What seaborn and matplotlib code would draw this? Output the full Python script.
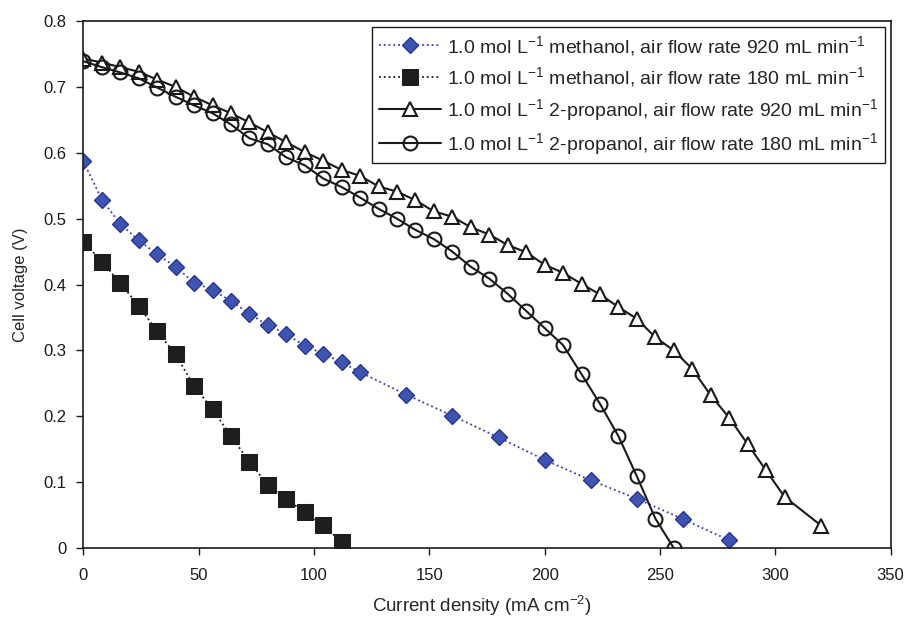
import numpy as np
import pandas as pd
import seaborn as sns
import matplotlib.pyplot as plt
from matplotlib.ticker import FuncFormatter, MultipleLocator

sns.set_style('ticks')
plt.rcParams['font.family'] = ['Liberation Sans', 'DejaVu Sans']
plt.rcParams['mathtext.fontset'] = 'custom'
plt.rcParams['mathtext.rm'] = 'Liberation Sans'
plt.rcParams['mathtext.it'] = 'Liberation Sans:italic'

# methanol, air 920 mL/min
meoh_920_x = [0, 8, 16, 24, 32, 40, 48, 56, 64, 72, 80, 88, 96, 104, 112, 120,
              140, 160, 180, 200, 220, 240, 260, 280]
meoh_920_v = [0.587, 0.529, 0.492, 0.467, 0.446, 0.427, 0.403, 0.392, 0.375, 0.356,
              0.338, 0.325, 0.307, 0.295, 0.282, 0.267, 0.233, 0.201, 0.168, 0.134,
              0.103, 0.075, 0.044, 0.012]

# methanol, air 180 mL/min
meoh_180_x = [0, 8, 16, 24, 32, 40, 48, 56, 64, 72, 80, 88, 96, 104, 112]
meoh_180_v = [0.465, 0.435, 0.402, 0.368, 0.329, 0.294, 0.246, 0.211, 0.170, 0.131,
              0.096, 0.074, 0.055, 0.035, 0.009]

# 2-propanol, air 920 mL/min
prop_920_x = [0, 8, 16, 24, 32, 40, 48, 56, 64, 72, 80, 88, 96, 104, 112, 120,
              128, 136, 144, 152, 160, 168, 176, 184, 192, 200, 208, 216, 224, 232,
              240, 248, 256, 264, 272, 280, 288, 296, 304, 320]
prop_920_v = [0.743, 0.737, 0.730, 0.723, 0.711, 0.700, 0.685, 0.672, 0.660, 0.646,
              0.631, 0.616, 0.601, 0.588, 0.574, 0.565, 0.549, 0.541, 0.528, 0.511,
              0.503, 0.487, 0.476, 0.460, 0.449, 0.430, 0.418, 0.401, 0.385, 0.366,
              0.348, 0.320, 0.300, 0.272, 0.232, 0.198, 0.158, 0.118, 0.078, 0.034]

# 2-propanol, air 180 mL/min
prop_180_x = [0, 8, 16, 24, 32, 40, 48, 56, 64, 72, 80, 88, 96, 104, 112, 120,
              128, 136, 144, 152, 160, 168, 176, 184, 192, 200, 208, 216, 224, 232,
              240, 248, 256]
prop_180_v = [0.739, 0.730, 0.722, 0.713, 0.699, 0.685, 0.672, 0.660, 0.643, 0.622,
              0.613, 0.593, 0.581, 0.561, 0.548, 0.532, 0.515, 0.500, 0.483, 0.469,
              0.450, 0.427, 0.409, 0.386, 0.360, 0.334, 0.308, 0.264, 0.219, 0.170,
              0.109, 0.045, 0.0]

labels = [
    r'1.0 mol L$^{-1}$ methanol, air flow rate 920 mL min$^{-1}$',
    r'1.0 mol L$^{-1}$ methanol, air flow rate 180 mL min$^{-1}$',
    r'1.0 mol L$^{-1}$ 2-propanol, air flow rate 920 mL min$^{-1}$',
    r'1.0 mol L$^{-1}$ 2-propanol, air flow rate 180 mL min$^{-1}$',
]

fig = plt.figure(figsize=(9.06, 6.18), dpi=100)
ax = fig.add_axes([0.092, 0.113, 0.891, 0.853])

sns.lineplot(x=meoh_920_x, y=meoh_920_v, ax=ax, sort=False, estimator=None,
             color='#3a3ab0', linestyle=':', linewidth=1.3,
             marker='D', markersize=8.5, markerfacecolor='#3d55b0',
             markeredgecolor='#2b3590', markeredgewidth=1.0, label=labels[0])
sns.lineplot(x=meoh_180_x, y=meoh_180_v, ax=ax, sort=False, estimator=None,
             color='#1a1a1a', linestyle=':', linewidth=1.3,
             marker='s', markersize=11, markerfacecolor='#1e1e1e',
             markeredgecolor='#1e1e1e', label=labels[1])
sns.lineplot(x=prop_920_x, y=prop_920_v, ax=ax, sort=False, estimator=None,
             color='#1a1a1a', linestyle='-', linewidth=1.5,
             marker='^', markersize=10.5, markerfacecolor='white',
             markeredgecolor='#1a1a1a', markeredgewidth=1.5, label=labels[2])
sns.lineplot(x=prop_180_x, y=prop_180_v, ax=ax, sort=False, estimator=None,
             color='#1a1a1a', linestyle='-', linewidth=1.5,
             marker='o', markersize=10, markerfacecolor='none',
             markeredgecolor='#1a1a1a', markeredgewidth=1.5, label=labels[3])

ax.set_xlim(0, 350)
ax.set_ylim(0, 0.8)
ax.xaxis.set_major_locator(MultipleLocator(50))
ax.yaxis.set_major_locator(MultipleLocator(0.1))
ax.yaxis.set_major_formatter(FuncFormatter(lambda v, p: '%g' % round(v, 2)))
ax.tick_params(direction='out', length=5, width=1, labelsize=12, colors='#1a1a1a')
ax.tick_params(axis='x', pad=9)
ax.tick_params(axis='y', pad=7)
for sp in ax.spines.values():
    sp.set_color('#1a1a1a')
    sp.set_linewidth(1.2)
    sp.set_visible(True)

ax.set_xlabel(r'Current density (mA cm$^{-2}$)', fontsize=13.5)
ax.set_ylabel('Cell voltage (V)', fontsize=12)
ax.xaxis.set_label_coords(0.494, -0.086)
ax.yaxis.set_label_coords(-0.068, 0.5)

leg = ax.legend(loc='upper right', fontsize=14, frameon=True, fancybox=False,
                edgecolor='#1a1a1a', framealpha=1, borderaxespad=0.3,
                borderpad=0.35, handlelength=3.2, handletextpad=0.3,
                labelspacing=0.4)
leg.get_frame().set_linewidth(1.0)

fig.savefig('out.png', dpi=100)
